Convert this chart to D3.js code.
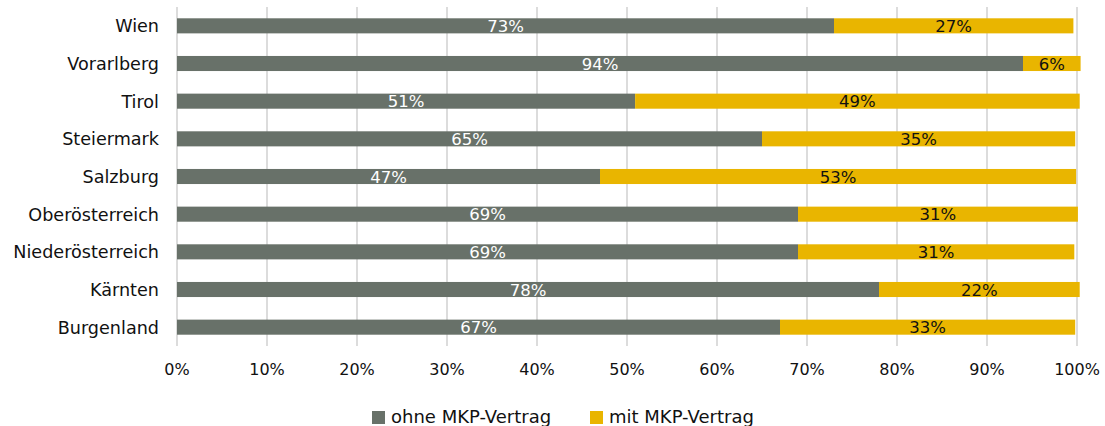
<!DOCTYPE html>
<html>
<head>
<meta charset="utf-8">
<script src="https://cdn.jsdelivr.net/npm/d3@7"></script>
<style>
  body { margin: 0; background: #fff; }
  svg text { font-family: "DejaVu Sans", sans-serif; fill: #111; }
</style>
</head>
<body>
<script>
// Bundesländer, top to bottom as drawn
let regions = ["Wien", "Vorarlberg", "Tirol", "Steiermark", "Salzburg",
               "Oberösterreich", "Niederösterreich", "Kärnten", "Burgenland"];

// share in % (labels are rounded)
let ohne = [73.0, 94.0, 50.9, 65.0, 47.0, 69.0, 69.0, 78.0, 67.0];
let mit  = [26.6, 6.4, 49.4, 34.8, 52.9, 31.1, 30.7, 22.3, 32.8];

let seriesNames = ["ohne MKP-Vertrag", "mit MKP-Vertrag"];
let xTicks = [0, 10, 20, 30, 40, 50, 60, 70, 80, 90, 100];

let colors = ["#687169", "#e9b500"],
    labelColors = ["#ffffff", "#111111"];

let width = 1105,
    height = 426;

let svg = d3.select("body").append("svg")
    .attr("width", width)
    .attr("height", height);

// scales
let xScale = d3.scaleLinear()
    .domain([0, 100])
    .range([177, 1077]);

let yScale = d3.scaleBand()
    .domain(regions)
    .range([7, 346])
    .paddingInner(0.6)
    .paddingOuter(0.3);

// gridlines (they also act as the tick marks below the plot)
svg.append("g")
    .selectAll("line")
    .data(xTicks)
    .join("line")
    .attr("x1", d => xScale(d))
    .attr("x2", d => xScale(d))
    .attr("y1", 7)
    .attr("y2", 346)
    .attr("stroke", "#dcdcdc")
    .attr("stroke-width", 2);

// x tick labels
svg.append("g")
    .selectAll("text")
    .data(xTicks)
    .join("text")
    .attr("x", d => xScale(d))
    .attr("y", 375)
    .attr("text-anchor", "middle")
    .style("font-size", "16px")
    .text(d => d + "%");

// category labels
svg.append("g")
    .selectAll("text")
    .data(regions)
    .join("text")
    .attr("x", 159)
    .attr("y", d => yScale(d) + yScale.bandwidth() / 2)
    .attr("dy", "0.36em")
    .attr("text-anchor", "end")
    .style("font-size", "17.6px")
    .text(d => d);

// stack the two series
let rows = regions.map((r, i) => ({region: r, ohne: ohne[i], mit: mit[i]}));
let stack = d3.stack().keys(["ohne", "mit"]);
let layers = stack(rows);

let layerG = svg.append("g")
    .selectAll("g")
    .data(layers)
    .join("g");

layerG.selectAll("rect")
    .data(d => d)
    .join("rect")
    .attr("x", d => xScale(d[0]))
    .attr("width", d => xScale(d[1]) - xScale(d[0]))
    .attr("y", d => yScale(d.data.region))
    .attr("height", yScale.bandwidth())
    .attr("fill", function() { return colors[d3.select(this.parentNode).datum().index]; });

// value labels
layerG.selectAll("text")
    .data(d => d)
    .join("text")
    .attr("x", d => (xScale(d[0]) + xScale(d[1])) / 2)
    .attr("y", d => yScale(d.data.region) + yScale.bandwidth() / 2)
    .attr("dy", "0.38em")
    .attr("text-anchor", "middle")
    .style("font-size", "16.5px")
    .style("fill", function() { return labelColors[d3.select(this.parentNode).datum().index]; })
    .text(d => Math.round(d[1] - d[0]) + "%");

// legend
let legendX = [372, 590];
let legend = svg.append("g")
    .selectAll("g")
    .data(seriesNames)
    .join("g")
    .attr("transform", (d, i) => `translate(${legendX[i]},411)`);

legend.append("rect")
    .attr("width", 13)
    .attr("height", 13)
    .attr("fill", (d, i) => colors[i]);

legend.append("text")
    .attr("x", 19)
    .attr("y", 12)
    .style("font-size", "18px")
    .text(d => d);
</script>
</body>
</html>
